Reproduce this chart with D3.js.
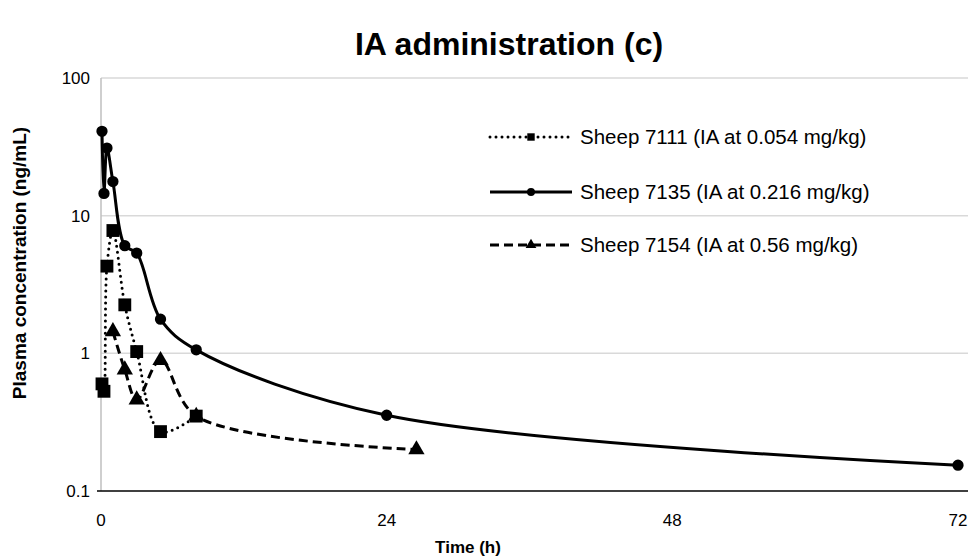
<!DOCTYPE html>
<html>
<head>
<meta charset="utf-8">
<script src="https://cdn.jsdelivr.net/npm/d3@7"></script>
<style>
  html, body { margin: 0; padding: 0; background: #fff; }
  svg { display: block; font-family: "Liberation Sans", Arial, sans-serif; }
</style>
</head>
<body>
<svg id="chart" width="968" height="560"></svg>
<script>
// ---- data ----
const title = "IA administration (c)";
const xLabel = "Time (h)";
const yLabel = "Plasma concentration (ng/mL)";
const xTicks = [0, 24, 48, 72];
const yTicks = [0.1, 1, 10, 100];
const yTickLabels = ["0.1", "1", "10", "100"];

const seriesNames = [
  "Sheep 7111 (IA at 0.054 mg/kg)",
  "Sheep 7135 (IA at 0.216 mg/kg)",
  "Sheep 7154 (IA at 0.56 mg/kg)"
];
const times7111 = [0.083, 0.25, 0.5, 1, 2, 3, 5, 8];
const conc7111  = [0.60, 0.53, 4.3, 7.8, 2.25, 1.03, 0.27, 0.35];
const times7135 = [0.083, 0.25, 0.5, 1, 2, 3, 5, 8, 24, 72];
const conc7135  = [41, 14.5, 31, 17.7, 6.05, 5.35, 1.77, 1.06, 0.355, 0.154];
const times7154 = [1, 2, 3, 5, 8, 26.5];
const conc7154  = [1.44, 0.76, 0.46, 0.89, 0.35, 0.2];

// ---- layout ----
const svg = d3.select("#chart");
const x = d3.scaleLinear().domain([0, 72]).range([101, 958]);
const y = d3.scaleLog().domain([0.1, 100]).range([491, 78]);
const xEnd = 968;

const series = [
  { name: seriesNames[0], t: times7111, c: conc7111, dash: "0 6", cap: "round", sym: d3.symbolSquare, size: 165, lsize: 55 },
  { name: seriesNames[1], t: times7135, c: conc7135, dash: null, cap: "butt", sym: d3.symbolCircle, size: 100, lsize: 50 },
  { name: seriesNames[2], t: times7154, c: conc7154, dash: "9 5", cap: "butt", sym: d3.symbolTriangle, size: 115, lsize: 50 }
];

// gridlines
svg.append("g").selectAll("line").data([1, 10, 100]).join("line")
  .attr("x1", x(0)).attr("x2", xEnd)
  .attr("y1", d => y(d)).attr("y2", d => y(d))
  .attr("stroke", "#d9d9d9").attr("stroke-width", 1.5);

// y axis line
svg.append("line").attr("x1", x(0)).attr("x2", x(0))
  .attr("y1", y(100)).attr("y2", y(0.1))
  .attr("stroke", "#bfbfbf").attr("stroke-width", 1.5);
// x axis line
svg.append("line").attr("x1", x(0) - 4).attr("x2", xEnd)
  .attr("y1", y(0.1)).attr("y2", y(0.1))
  .attr("stroke", "#000").attr("stroke-width", 1.5);

// tick labels
svg.append("g").selectAll("text").data(yTicks).join("text")
  .attr("x", x(0) - 11).attr("y", d => y(d))
  .attr("dy", "0.36em").attr("text-anchor", "end")
  .attr("font-size", 17).attr("fill", "#000")
  .text((d, i) => yTickLabels[i]);
svg.append("g").selectAll("text").data(xTicks).join("text")
  .attr("x", d => x(d)).attr("y", 526)
  .attr("text-anchor", "middle")
  .attr("font-size", 17).attr("fill", "#000")
  .text(d => d);

// titles
svg.append("text").attr("x", 509).attr("y", 55).attr("text-anchor", "middle")
  .attr("font-size", 32).attr("font-weight", "bold").text(title);
svg.append("text").attr("x", 468).attr("y", 553).attr("text-anchor", "middle")
  .attr("font-size", 17).attr("font-weight", "bold").text(xLabel);
svg.append("text").attr("transform", "translate(26,263) rotate(-90)")
  .attr("text-anchor", "middle")
  .attr("font-size", 19).attr("font-weight", "bold").text(yLabel);

// lines
const line = d3.line().x(d => x(d[0])).y(d => y(d[1])).curve(d3.curveCatmullRom.alpha(0.5));
series.forEach(s => {
  const pts = s.t.map((t, i) => [t, s.c[i]]);
  const g = svg.append("g");
  g.append("path").attr("d", line(pts))
    .attr("fill", "none").attr("stroke", "#000").attr("stroke-width", 3)
    .attr("stroke-linecap", s.cap)
    .attr("stroke-dasharray", s.dash);
  g.selectAll("path.m").data(pts).join("path").attr("class", "m")
    .attr("transform", d => `translate(${x(d[0])},${y(d[1])})`)
    .attr("d", d3.symbol().type(s.sym).size(s.size))
    .attr("fill", "#000");
});

// legend
const legY = [137, 192, 245];
series.forEach((s, i) => {
  const g = svg.append("g").attr("transform", `translate(0,${legY[i]})`);
  g.append("line").attr("x1", 490).attr("x2", 572).attr("y1", 0).attr("y2", 0)
    .attr("stroke", "#000").attr("stroke-width", 3)
    .attr("stroke-linecap", s.cap).attr("stroke-dasharray", s.dash);
  g.append("path").attr("transform", "translate(531,0)")
    .attr("d", d3.symbol().type(s.sym).size(s.lsize)).attr("fill", "#000");
  g.append("text").attr("x", 580).attr("y", 0).attr("dy", "0.36em")
    .attr("font-size", 20.5).attr("fill", "#000").text(s.name);
});
</script>
</body>
</html>
